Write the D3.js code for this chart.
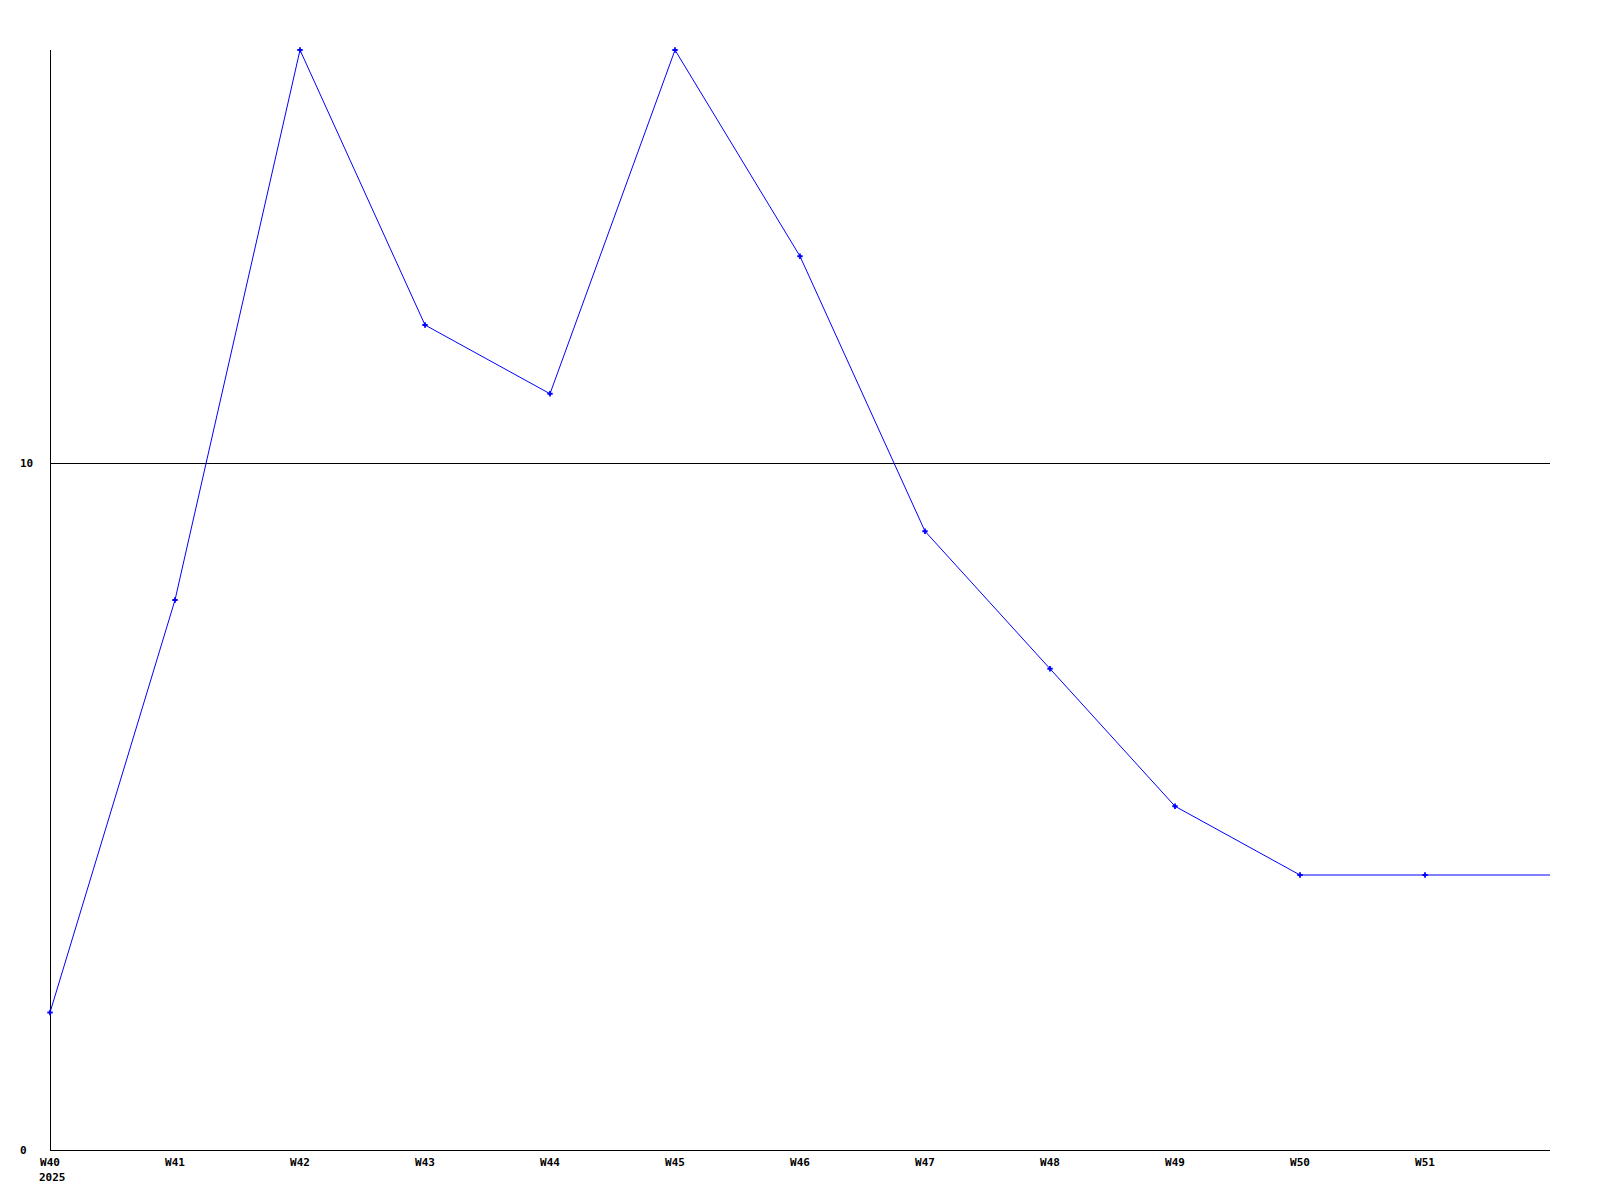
<!DOCTYPE html>
<html><head><meta charset="utf-8">
<script src="https://cdn.jsdelivr.net/npm/d3@7"></script>
<style>body{margin:0;background:#fff}svg{display:block}text{font-family:"DejaVu Sans Mono","Liberation Mono",monospace;font-weight:bold;font-size:11px;fill:#000}</style>
</head><body><svg id="c" width="1600" height="1200"></svg>
<script>
const weeks = ["W40","W41","W42","W43","W44","W45","W46","W47","W48","W49","W50","W51"];
const values = [2,8,16,12,11,16,13,9,7,5,4,4];
const yTicks = [0,10];
const yearLabel = "2025";

const svg = d3.select("#c");
const x = d3.scaleLinear().domain([0,12]).range([50,1550]);
const y = d3.scaleLinear().domain([0,16]).range([1150,50]);

// gridline at 10
svg.selectAll("line.grid").data(yTicks.filter(d=>d>0)).enter().append("line")
  .attr("x1",50).attr("x2",1550).attr("y1",d=>Math.round(y(d))+0.5).attr("y2",d=>Math.round(y(d))+0.5)
  .attr("stroke","#000").attr("stroke-width",1);

// axes
svg.append("line").attr("x1",50.5).attr("x2",50.5).attr("y1",50).attr("y2",1150).attr("stroke","#000");
svg.append("line").attr("x1",50).attr("x2",1550).attr("y1",1150.5).attr("y2",1150.5).attr("stroke","#000");

// y labels
svg.selectAll("text.y").data(yTicks).enter().append("text")
  .attr("x",20).attr("y",d=>y(d)+4).attr("text-anchor","start").text(d=>d);

// x labels
svg.selectAll("text.x").data(weeks).enter().append("text")
  .attr("x",(d,i)=>x(i)).attr("y",1166).attr("text-anchor","middle").text(d=>d);
svg.append("text").attr("x",x(0)-11).attr("y",1181).text(yearLabel);

// line (extends to right edge with last value)
const pts = values.map((v,i)=>[x(i),y(v)]);
pts.push([x(12), y(values[values.length-1])]);
svg.append("path").attr("d",d3.line()(pts)).attr("fill","none").attr("stroke","#0000ff").attr("stroke-width",1);

// markers
svg.selectAll("path.m").data(values).enter().append("path")
  .attr("transform",(d,i)=>`translate(${x(i)},${y(d)})`)
  .attr("d",d3.symbol(d3.symbolCross,16)).attr("fill","#0000ff");
</script></body></html>
